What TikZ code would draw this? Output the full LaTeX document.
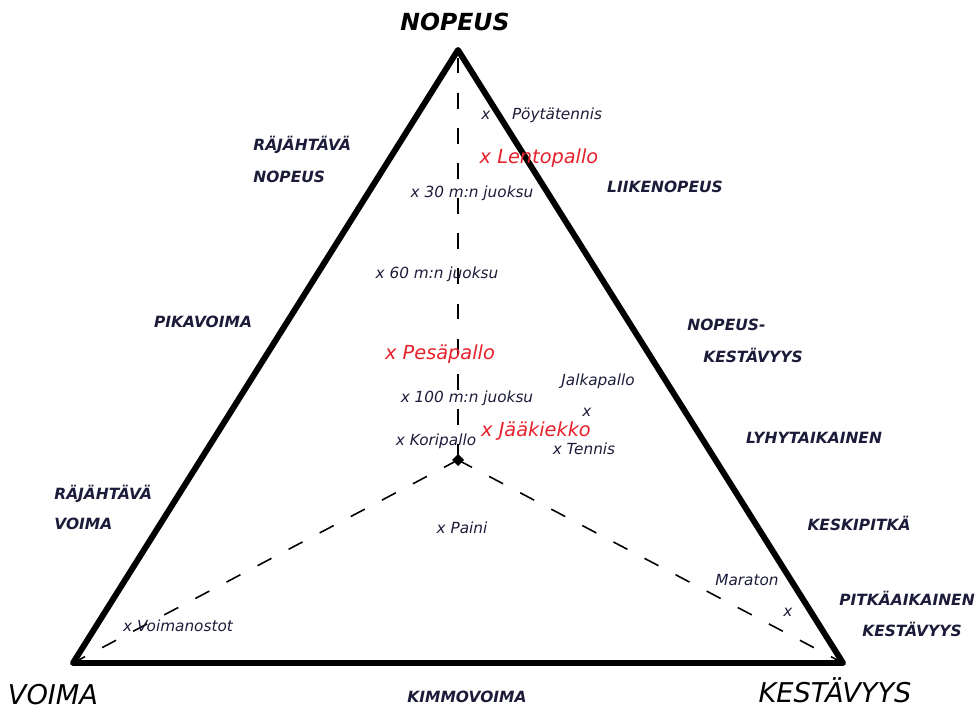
\documentclass[tikz,border=0pt]{standalone}
\usepackage{fontspec}
\setmainfont{DejaVu Sans}
\definecolor{ink}{HTML}{1C1C3A}
\definecolor{redtxt}{HTML}{E8202A}
\begin{document}
\begin{tikzpicture}[x=0.02cm,y=-0.02cm,
  lbl/.style={text=ink,font=\fontsize{8.7}{10}\selectfont\itshape,inner sep=0pt},
  caplbl/.style={text=ink,font=\fontsize{8.8}{10}\selectfont\bfseries\itshape,inner sep=0pt},
  redl/.style={text=redtxt,font=\fontsize{11}{13}\selectfont\itshape,inner sep=0pt},
  big/.style={text=black,font=\fontsize{15.5}{18}\selectfont\itshape,inner sep=0pt},
  side/.style={line width=3.4pt,line join=round,line cap=round},
  axis/.style={line width=0.9pt,dash pattern=on 9pt off 11pt}]
\useasboundingbox (0,0) rectangle (978,709);
\coordinate (T) at (458,50);
\coordinate (L) at (73,663);
\coordinate (R) at (843,663);
\coordinate (C) at (458,460);
\draw[side] (T) -- (L) -- (R) -- cycle;
\draw[axis] (C) -- (T);
\draw[axis] (C) -- (L);
\draw[axis] (C) -- (R);
\fill (C) +(0,-6) -- +(6,0) -- +(0,6) -- +(-6,0) -- cycle;
% corner labels
\node[big,font=\fontsize{13.4}{15}\selectfont\bfseries\itshape] (nopeus) at (455,22) {NOPEUS};
\node[big] (voima) at (53,695) {VOIMA};
\node[big] (kest) at (835,690) {KESTÄVYYS};
\node[caplbl] (kimmo) at (467,697) {KIMMOVOIMA};
% outer labels
\node[caplbl,anchor=west] (rn1) at (253,145) {RÄJÄHTÄVÄ};
\node[caplbl,anchor=west] (rn2) at (253,177) {NOPEUS};
\node[caplbl] (liike) at (665,187) {LIIKENOPEUS};
\node[caplbl] (pika) at (203,322) {PIKAVOIMA};
\node[caplbl,anchor=west] (nk1) at (687,325) {NOPEUS-};
\node[caplbl] (nk2) at (753,355) {KESTÄVYYS};
\node[caplbl] (lyhyt) at (814,438) {LYHYTAIKAINEN};
\node[caplbl,anchor=west] (rv1) at (54,494) {RÄJÄHTÄVÄ};
\node[caplbl,anchor=west] (rv2) at (54,524) {VOIMA};
\node[caplbl] (keski) at (859,523) {KESKIPITKÄ};
\node[caplbl] (pitka1) at (907,598) {PITKÄAIKAINEN};
\node[caplbl] (pitka2) at (912,629) {KESTÄVYYS};
% sports
\node[lbl] (x1) at (486,115) {x};
\node[lbl] (poyta) at (557,115) {Pöytätennis};
\node[redl] (lento) at (539,158) {x Lentopallo};
\node[lbl] (m30) at (472,193) {x 30 m:n juoksu};
\node[lbl] (m60) at (437,274) {x 60 m:n juoksu};
\node[redl] (pesa) at (440,354) {x Pesäpallo};
\node[lbl] (jalka) at (598,381) {Jalkapallo};
\node[lbl] (m100) at (467,398) {x 100 m:n juoksu};
\node[lbl] (x2) at (587,412) {x};
\node[redl] (jaa) at (536,431) {x Jääkiekko};
\node[lbl] (kori) at (436,441) {x Koripallo};
\node[lbl] (tennis) at (584,449) {x Tennis};
\node[lbl] (paini) at (462,528) {x Paini};
\node[lbl] (mara) at (747,580) {Maraton};
\node[lbl] (x3) at (788,612) {x};
\node[lbl] (voimano) at (178,626) {x Voimanostot};
\end{tikzpicture}
\end{document}
